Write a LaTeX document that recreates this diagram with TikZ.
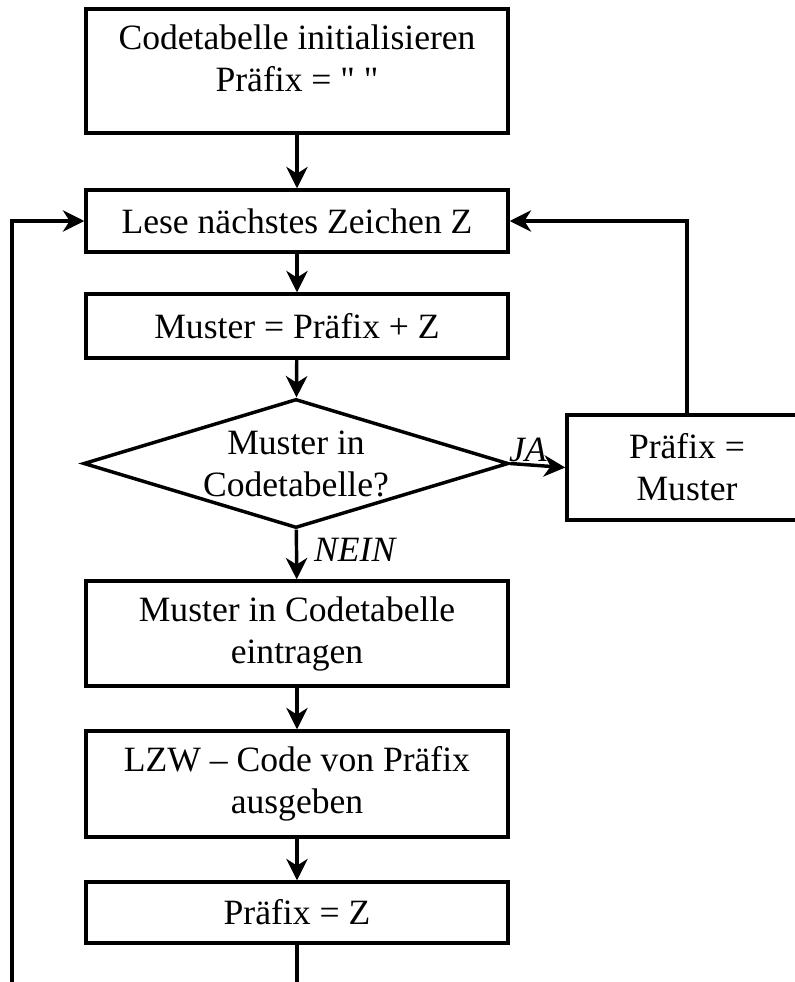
\documentclass[tikz,border=0pt]{standalone}
\usepackage{fontspec}
\setmainfont{Liberation Serif}
\usetikzlibrary{arrows.meta,shapes.geometric}

\tikzset{
  box/.style={draw, line width=2.6pt, minimum width=316.5pt, align=center, inner sep=0pt},
  test/.style={draw, diamond, line width=2.6pt, aspect=3.3, align=center, inner sep=0pt,
    minimum width=318.75pt, minimum height=96.75pt},
  flow/.style={-{Stealth[length=16pt,width=16pt,inset=5pt]}, line width=2.6pt},
}

\begin{document}
\begin{tikzpicture}[x=0.75pt,y=-0.75pt,
  every node/.style={font=\fontsize{26.7}{31.5}\selectfont}]
\useasboundingbox (0,0) rectangle (795,982);

\node[box, minimum height=93pt, text depth=19.5pt] (init) at (297,71)
  {Codetabelle initialisieren\\Präfix = \textquotedbl\ \textquotedbl};
\node[box, minimum height=46.5pt] (lese) at (297,221) {Lese nächstes Zeichen Z};
\node[box, minimum height=48pt] (muster) at (297,326) {Muster = Präfix + Z};
\node[test] (test) at (296,463.5) {Muster in\\Codetabelle?};
\node[box, minimum width=180pt, minimum height=78.75pt] (praefix) at (687,467.5)
  {Präfix =\\Muster};
\node[box, minimum height=78.75pt] (eintragen) at (297,633.5)
  {Muster in Codetabelle\\eintragen};
\node[box, minimum height=79.5pt] (ausgabe) at (297,784)
  {LZW – Code von Präfix\\ausgeben};
\node[box, minimum height=45.75pt] (setz) at (297,912.5) {Präfix = Z};

% loses Ende links unten
\coordinate (ruecklauf) at (12,982);

\draw[flow] (init) -- (lese);
\draw[flow] (lese) -- (muster);
\draw[flow] (muster) -- (test);
\draw[flow] (test.east) -- node[above, pos=0.32, inner sep=1pt] {\textit{JA}} (praefix.west);
\draw[flow] (praefix.north) |- (lese.east);
\draw[flow] (test) -- node[right=12pt, pos=0.4, inner sep=0pt] {\textit{NEIN}} (eintragen);
\draw[flow] (eintragen) -- (ausgabe);
\draw[flow] (ausgabe) -- (setz);
\draw[line width=2.6pt] (setz.south) -- (setz.south |- ruecklauf);
\draw[flow] (ruecklauf) |- (lese.west);
\end{tikzpicture}
\end{document}
